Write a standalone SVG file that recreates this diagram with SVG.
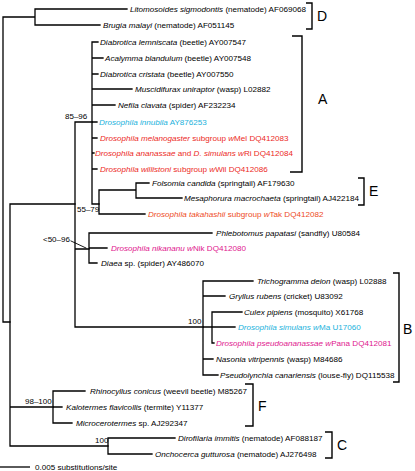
<svg xmlns="http://www.w3.org/2000/svg" width="415" height="471" viewBox="0 0 415 471">
<style>
.br{stroke:#000;stroke-width:1.3;fill:none;stroke-linecap:square}
.bk{stroke:#000;stroke-width:1.4;fill:none}
text{font-family:"Liberation Sans",Arial,sans-serif;font-size:8.1px;fill:#000}
.i{font-style:italic}
.bs{font-size:8px}
.cl{font-size:14px}
.cy{fill:#1ab2dc}
.rd{fill:#ec2a26}
.or{fill:#ee4b25}
.mg{fill:#e0168e}
</style>
<rect width="415" height="471" fill="#fff"/>
<g id="connectors">
<path class="br" d="M3,17V322M3,17H35M3,322H10M35,9V25M35,9H127M35,25H100"/>
<path class="br" d="M10,204V446M10,204H75M10,407H53M10,446H108"/>
<path class="br" d="M75,122V327M75,122H92M75,249H89M75,327H203"/>
<path class="br" d="M92,42V204M92,42H98M92,58H103M92,74H98M92,89H132M92,105H115M92,122H97M92,138H97M92,153H94M92,169H97M92,204H99"/>
<path class="br" d="M99,190V214M99,190H136M99,214H145M136,183V198M136,183H149M136,198H182"/>
<path class="br" d="M89,233V263M89,233H212M89,248H107M89,263H97"/>
<path class="br" d="M203,281V375M203,281H253M203,296H225M203,327H212M203,359H213M203,375H218M212,312V343M212,312H242M212,327H235M212,343H214"/>
<path class="br" d="M53,391V423M53,391H85M53,407H62M53,423H72"/>
<path class="br" d="M108,438V454M108,438H175M108,454H152"/>
<path class="br" d="M71,241L86,248" style="stroke-width:0.9"/>
</g>
<g id="n-litomosoides"><text x="130" y="12"><tspan class="i">Litomosoides sigmodontis</tspan> (nematode) AF069068</text></g>
<g id="n-brugia"><text x="103" y="28"><tspan class="i">Brugia malayi</tspan> (nematode) AF051145</text></g>
<g id="n-lemniscata"><text x="100" y="45"><tspan class="i">Diabrotica lemniscata</tspan> (beetle) AY007547</text></g>
<g id="n-acalymma"><text x="105" y="61"><tspan class="i">Acalymma blandulum</tspan> (beetle) AY007548</text></g>
<g id="n-cristata"><text x="100" y="77"><tspan class="i">Diabrotica cristata</tspan> (beetle) AY007550</text></g>
<g id="n-muscidifurax"><text x="135" y="92"><tspan class="i">Muscidifurax uniraptor</tspan> (wasp) L02882</text></g>
<g id="n-nefila"><text x="118" y="108"><tspan class="i">Nefila clavata</tspan> (spider) AF232234</text></g>
<g id="n-innubila"><text class="cy" x="99" y="125"><tspan class="i">Drosophila innubila</tspan> AY876253</text></g>
<g id="n-wmel"><text class="rd" x="100" y="141"><tspan class="i">Drosophila melanogaster</tspan> subgroup <tspan class="i">w</tspan>Mel DQ412083</text></g>
<g id="n-wri"><text class="rd" x="95" y="156"><tspan class="i">Drosophila ananassae</tspan> and <tspan class="i">D. simulans w</tspan>Ri DQ412084</text></g>
<g id="n-wwil"><text class="rd" x="100" y="172"><tspan class="i">Drosophila willistoni</tspan> subgroup <tspan class="i">w</tspan>Wil DQ412086</text></g>
<g id="n-folsomia"><text x="152" y="186"><tspan class="i">Folsomia candida</tspan> (springtail) AF179630</text></g>
<g id="n-mesaphorura"><text x="184" y="201"><tspan class="i">Mesaphorura macrochaeta</tspan> (springtail) AJ422184</text></g>
<g id="n-wtak"><text class="or" x="148" y="217"><tspan class="i">Drosophila takahashii</tspan> subgroup <tspan class="i">w</tspan>Tak DQ412082</text></g>
<g id="n-phlebotomus"><text x="216" y="236"><tspan class="i">Phlebotomus papatasi</tspan> (sandfly) U80584</text></g>
<g id="n-wnik"><text class="mg" x="111" y="251"><tspan class="i">Drosophila nikananu w</tspan>Nik DQ412080</text></g>
<g id="n-diaea"><text x="101" y="266"><tspan class="i">Diaea</tspan> sp. (spider) AY486070</text></g>
<g id="n-trichogramma"><text x="257" y="284"><tspan class="i">Trichogramma deion</tspan> (wasp) L02888</text></g>
<g id="n-gryllus"><text x="229" y="299"><tspan class="i">Gryllus rubens</tspan> (cricket) U83092</text></g>
<g id="n-culex"><text x="244" y="315"><tspan class="i">Culex pipiens</tspan> (mosquito) X61768</text></g>
<g id="n-wma"><text class="cy" x="238" y="330"><tspan class="i">Drosophila simulans w</tspan>Ma U17060</text></g>
<g id="n-wpana"><text class="mg" x="216" y="346"><tspan class="i">Drosophila pseudoananassae w</tspan>Pana DQ412081</text></g>
<g id="n-nasonia"><text x="216" y="362"><tspan class="i">Nasonia vitripennis</tspan> (wasp) M84686</text></g>
<g id="n-pseudolynchia"><text x="220" y="378"><tspan class="i">Pseudolynchia canariensis</tspan> (louse-fly) DQ115538</text></g>
<g id="n-rhinocyllus"><text x="90" y="394"><tspan class="i">Rhinocyllus conicus</tspan> (weevil beetle) M85267</text></g>
<g id="n-kalotermes"><text x="66" y="410"><tspan class="i">Kalotermes flavicollis</tspan> (termite) Y11377</text></g>
<g id="n-microcerotermes"><text x="76" y="426"><tspan class="i">Microcerotermes</tspan> sp. AJ292347</text></g>
<g id="n-dirofilaria"><text x="178" y="441"><tspan class="i">Dirofilaria immitis</tspan> (nematode) AF088187</text></g>
<g id="n-onchocerca"><text x="155" y="457"><tspan class="i">Onchocerca gutturosa</tspan> (nematode) AJ276498</text></g>
<g id="support">
<text class="bs" x="65" y="119">85–96</text>
<text class="bs" x="77" y="212">55–79</text>
<text class="bs" x="43" y="242">&lt;50–96</text>
<text class="bs" x="188" y="324">100</text>
<text class="bs" x="25" y="404">98–100</text>
<text class="bs" x="95" y="443">100</text>
</g>
<g id="clade-D"><path class="bk" d="M306,3H312V29H306"/><text class="cl" x="317" y="21">D</text></g>
<g id="clade-A"><path class="bk" d="M292,36H302V172H290"/><text class="cl" x="318" y="104">A</text></g>
<g id="clade-E"><path class="bk" d="M358,178H364V205H358"/><text class="cl" x="369" y="196">E</text></g>
<g id="clade-B"><path class="bk" d="M393,273H399V382H393"/><text class="cl" x="403" y="334">B</text></g>
<g id="clade-F"><path class="bk" d="M245,384H253V426H245"/><text class="cl" x="258" y="411">F</text></g>
<g id="clade-C"><path class="bk" d="M325,432H332V458H325"/><text class="cl" x="337" y="450">C</text></g>
<g id="scale"><path class="br" d="M0,467H30" style="stroke-linecap:butt"/><text x="35" y="470">0.005 substitutions/site</text></g>
</svg>
